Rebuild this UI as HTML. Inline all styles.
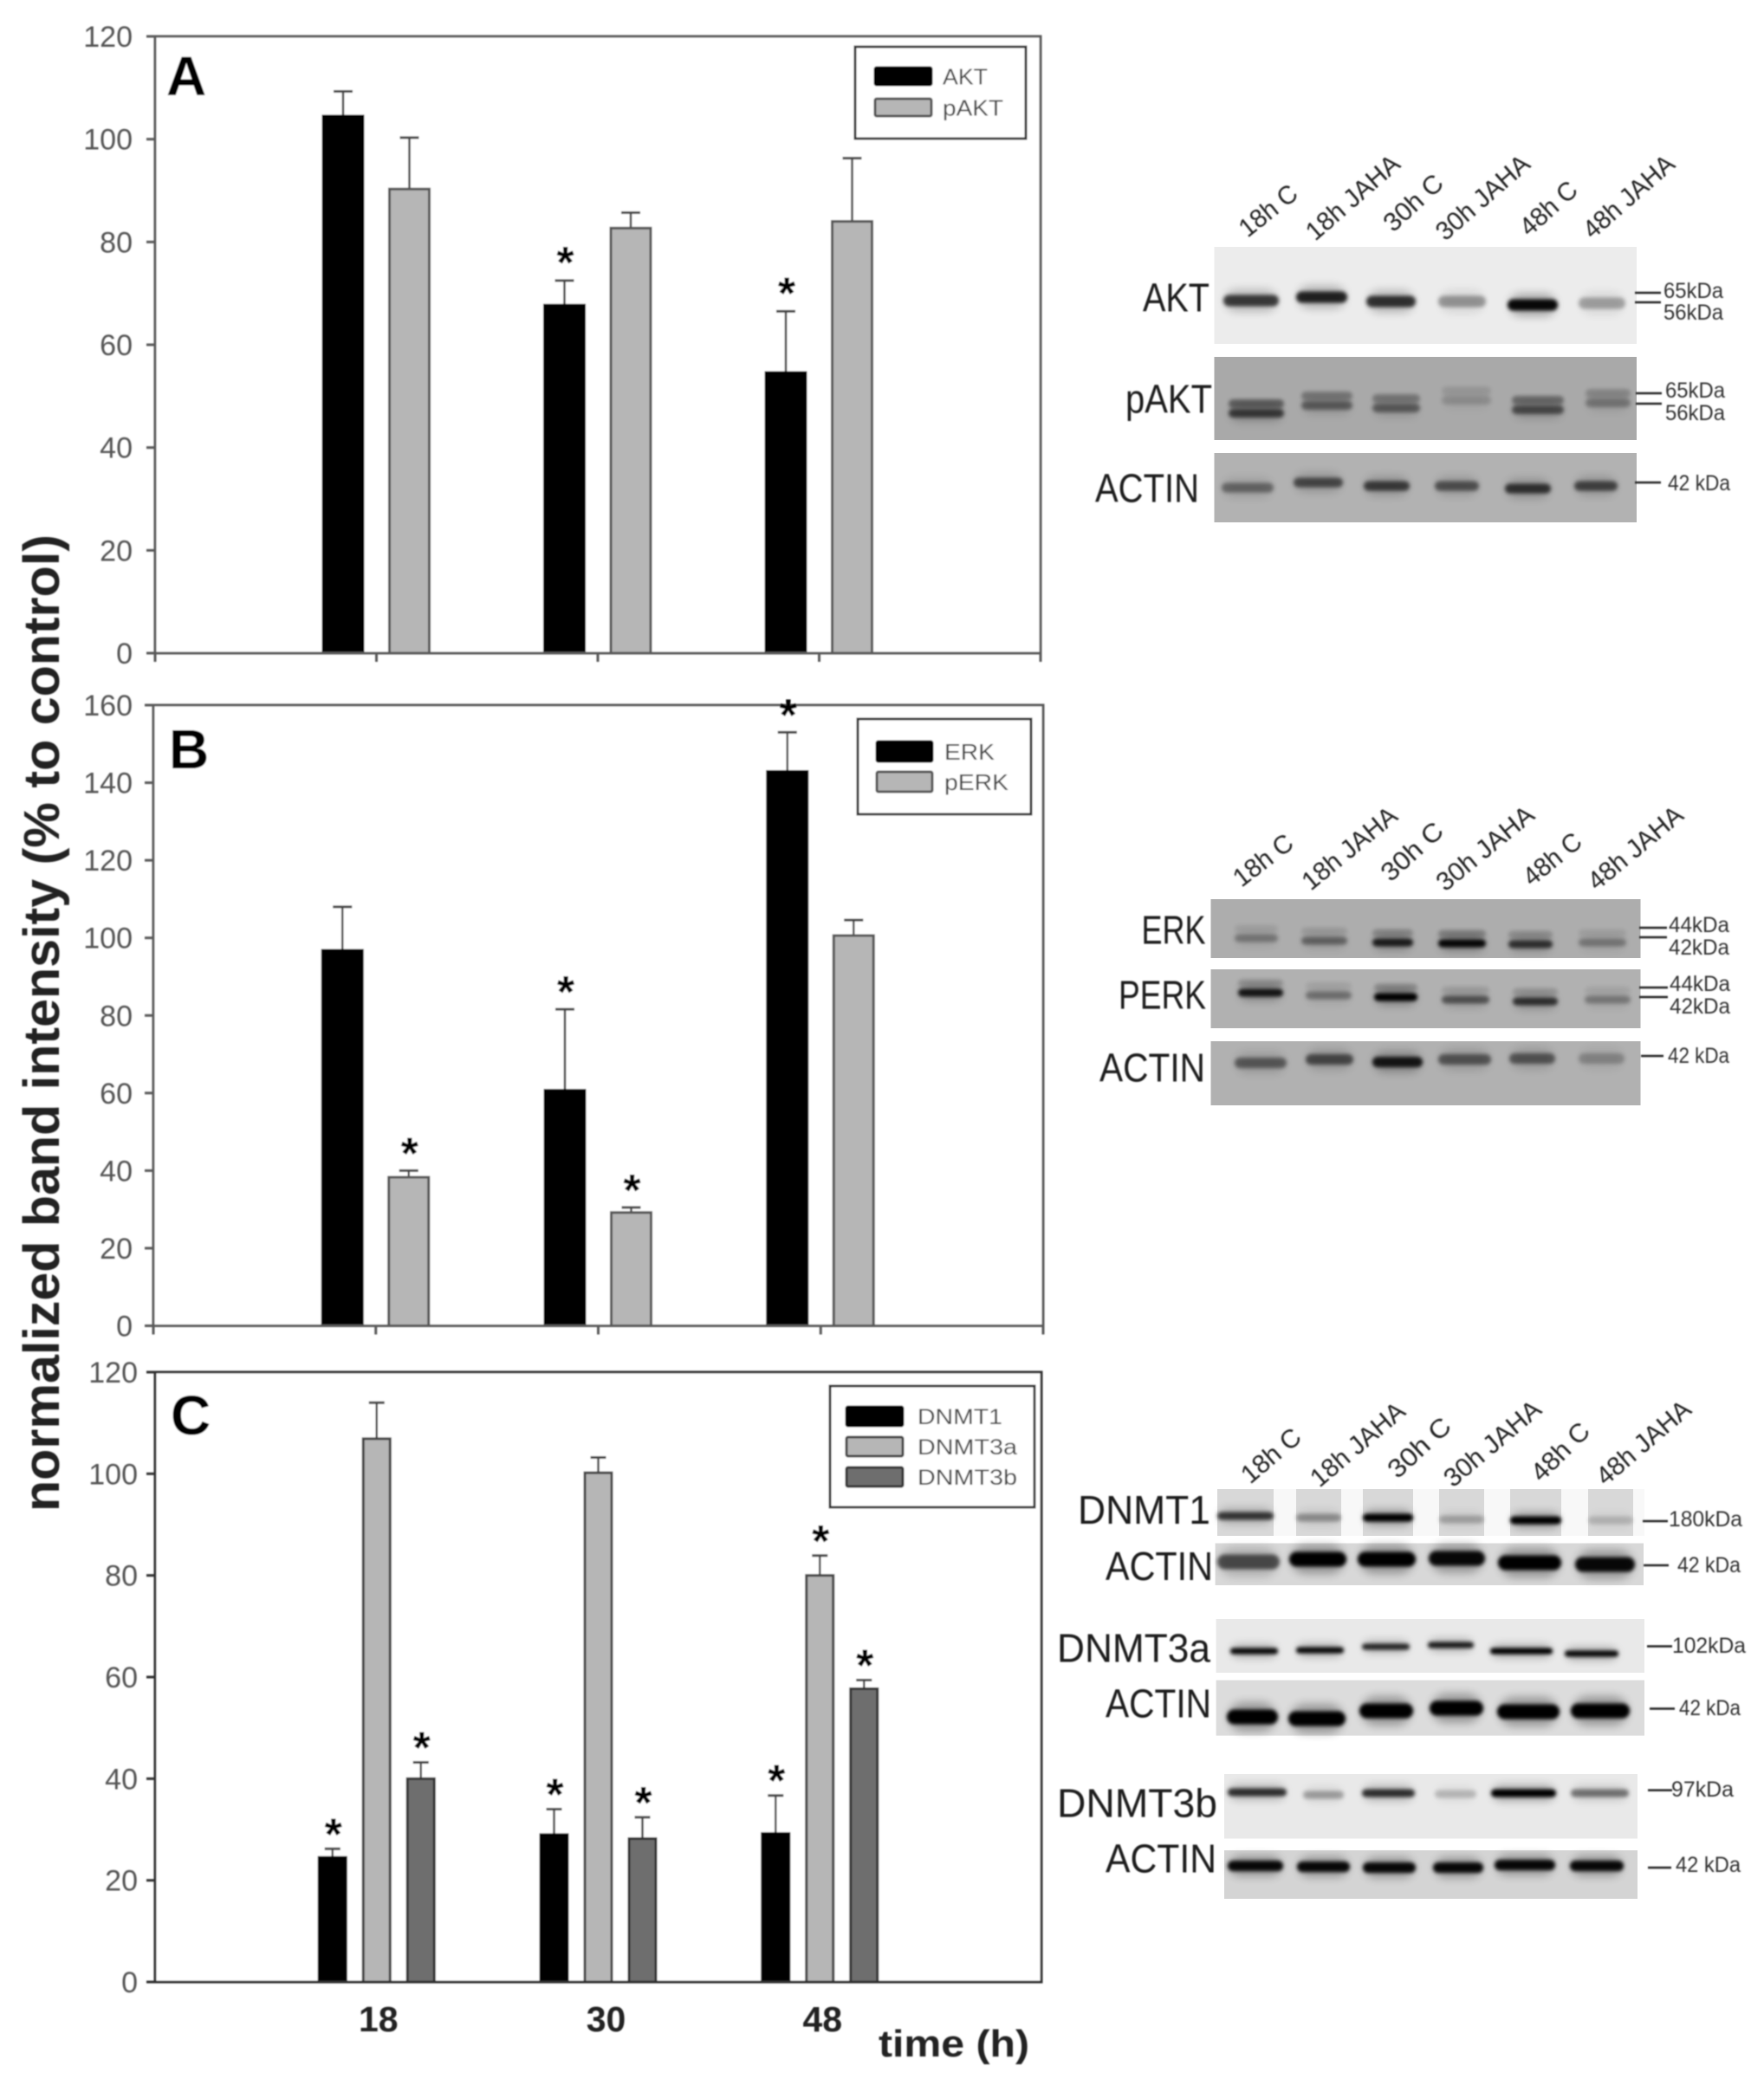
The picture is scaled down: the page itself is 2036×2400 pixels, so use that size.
<!DOCTYPE html>
<html lang="en">
<head>
<meta charset="utf-8">
<title>Normalized band intensity and western blots</title>
<style>
html,body{margin:0;padding:0;background:#fff;width:2036px;height:2400px;overflow:hidden}
svg{display:block;font-family:"Liberation Sans",Arial,sans-serif}
</style>
</head>
<body>
<svg id="figure" width="2036" height="2400" viewBox="0 0 2036 2400" xmlns="http://www.w3.org/2000/svg">
  <defs>
    <filter id="soft" x="-5%" y="-5%" width="110%" height="110%"><feGaussianBlur stdDeviation="0.9"/></filter>
    <filter id="band" x="-20%" y="-100%" width="140%" height="300%"><feGaussianBlur stdDeviation="2.2"/></filter>
    <filter id="halo" x="-20%" y="-100%" width="140%" height="300%"><feGaussianBlur stdDeviation="5"/></filter>
  </defs>
  <g id="charts" filter="url(#soft)"></g>
  <g id="blots"></g>
  <g id="blot-text" filter="url(#soft)"></g>
  <text transform="translate(68,1181) rotate(-90)" text-anchor="middle" font-size="58" font-weight="700" fill="#222" textLength="1128" lengthAdjust="spacingAndGlyphs" filter="url(#soft)">normalized band intensity (% to control)</text>
</svg>
<script>
// ---- chart data ----
const categories = ['18', '30', '48'];

const panelATicks = [0, 20, 40, 60, 80, 100, 120];
const aktValues = [104.5, 67.7, 54.6];
const aktErrors = [4.8, 4.8, 11.9];
const aktStars = [0, 1, 1];
const pAktValues = [90.3, 82.7, 84];
const pAktErrors = [10, 3, 12.3];
const pAktStars = [0, 0, 0];

const panelBTicks = [0, 20, 40, 60, 80, 100, 120, 140, 160];
const erkValues = [96.8, 60.7, 142.9];
const erkErrors = [11.2, 20.9, 10.1];
const erkStars = [0, 1, 1];
const pErkValues = [38.3, 29.2, 100.6];
const pErkErrors = [1.7, 1.3, 4];
const pErkStars = [1, 1, 0];

const panelCTicks = [0, 20, 40, 60, 80, 100, 120];
const dnmt1Values = [24.5, 29, 29.2];
const dnmt1Errors = [1.7, 5, 7.5];
const dnmt1Stars = [1, 1, 1];
const dnmt3aValues = [106.9, 100.2, 80];
const dnmt3aErrors = [7.1, 3, 3.9];
const dnmt3aStars = [0, 0, 1];
const dnmt3bValues = [40, 28.2, 57.7];
const dnmt3bErrors = [3.2, 4.2, 1.7];
const dnmt3bStars = [1, 1, 1];

const laneLabels = ['18h C', '18h JAHA', '30h C', '30h JAHA', '48h C', '48h JAHA'];

// ---- rendering ----
const NS = 'http://www.w3.org/2000/svg';
const chartsLayer = document.getElementById('charts');
const blotLayer = document.getElementById('blots');
const blotTextLayer = document.getElementById('blot-text');

function make(tag, attrs, parent, text) {
  const el = document.createElementNS(NS, tag);
  for (const k in attrs) el.setAttribute(k, attrs[k]);
  if (text !== undefined) el.textContent = text;
  parent.appendChild(el);
  return el;
}

const panels = [
  { id: 'a', letter: 'A', left: 179, right: 1201, top: 42, bottom: 754, max: 120, ticks: panelATicks, xTicks: true,
    labelRight: 153, axis: '#5a5a5a', barW: 48, offsets: [-38.5, 38], starShift: -3,
    letterX: 192, letterY: 110, letterFont: 64,
    series: [
      { name: 'AKT', values: aktValues, errors: aktErrors, stars: aktStars, fill: '#000', stroke: '#000' },
      { name: 'pAKT', values: pAktValues, errors: pAktErrors, stars: pAktStars, fill: '#b6b6b6', stroke: '#555' }
    ],
    legend: { x: 987, y: 54, w: 197, h: 106, swX: 1010, swW: 65, swH: 20, textX: 1088, font: 26, rows: [78, 114], widths: [52, 70] } },
  { id: 'b', letter: 'B', left: 177, right: 1204, top: 814, bottom: 1530.5, max: 160, ticks: panelBTicks, xTicks: true,
    labelRight: 153, axis: '#5a5a5a', barW: 48, offsets: [-38.5, 38], starShift: -2,
    letterX: 195, letterY: 887, letterFont: 64,
    series: [
      { name: 'ERK', values: erkValues, errors: erkErrors, stars: erkStars, fill: '#000', stroke: '#000' },
      { name: 'pERK', values: pErkValues, errors: pErkErrors, stars: pErkStars, fill: '#b6b6b6', stroke: '#555' }
    ],
    legend: { x: 990, y: 830, w: 200, h: 110, swX: 1012, swW: 64, swH: 23, textX: 1090, font: 26, rows: [856, 891], widths: [58, 74] } },
  { id: 'c', letter: 'C', left: 179, right: 1202, top: 1584, bottom: 2288, max: 120, ticks: panelCTicks, xTicks: false,
    labelRight: 159, axis: '#333', barW: 33, offsets: [-51, 0, 51], starShift: 1,
    letterX: 197, letterY: 1656, letterFont: 64,
    series: [
      { name: 'DNMT1', values: dnmt1Values, errors: dnmt1Errors, stars: dnmt1Stars, fill: '#000', stroke: '#000' },
      { name: 'DNMT3a', values: dnmt3aValues, errors: dnmt3aErrors, stars: dnmt3aStars, fill: '#b6b6b6', stroke: '#444' },
      { name: 'DNMT3b', values: dnmt3bValues, errors: dnmt3bErrors, stars: dnmt3bStars, fill: '#6e6e6e', stroke: '#333' }
    ],
    legend: { x: 958, y: 1600, w: 236, h: 140, swX: 977, swW: 65, swH: 22, textX: 1059, font: 25, rows: [1624, 1659, 1694], widths: [98, 115, 115] } }
];

// horizontal nudge of the printed category labels relative to the group centres
const categoryLabelNudge = [2, 9, 3];

panels.forEach(function (p) {
  const yScale = function (v) { return p.bottom - (v / p.max) * (p.bottom - p.top); };
  const xScale = function (i) { return p.left + (i + 1) * (p.right - p.left) / 4; };

  const g = make('g', {}, chartsLayer);
  
  

  // plot frame
  const frame = make('rect', { x: p.left, y: p.top, width: p.right - p.left, height: p.bottom - p.top, fill: '#fff', stroke: p.axis, 'stroke-width': 3 }, g);
  
  

  // y ticks + labels
  p.ticks.forEach(function (t) {
    const y = yScale(t);
    const tick = make('line', { x1: p.left - 10, x2: p.left, y1: y, y2: y, stroke: p.axis, 'stroke-width': 3 }, g);
    
    
    const lab = make('text', { x: p.labelRight, y: y + 12, 'text-anchor': 'end', 'font-size': 34, fill: '#555' }, g, String(t));
    
    
  });

  // x ticks
  if (p.xTicks) {
    for (let i = -1; i <= 3; i++) {
      const xt = make('line', { x1: xScale(i), x2: xScale(i), y1: p.bottom, y2: p.bottom + 10, stroke: p.axis, 'stroke-width': 3 }, g);
      
      
    }
  }

  // bars, error bars, significance stars
  p.series.forEach(function (s, si) {
    s.values.forEach(function (v, i) {
      const cx = xScale(i) + p.offsets[si];
      const yTop = yScale(v);
      const yErr = yScale(v + s.errors[i]);
      const capW = p.barW > 40 ? 22 : 18;

      const stem = make('line', { x1: cx, x2: cx, y1: yTop, y2: yErr, stroke: '#444', 'stroke-width': 2.5 }, g);
      
      
      const cap = make('line', { x1: cx - capW / 2, x2: cx + capW / 2, y1: yErr, y2: yErr, stroke: '#444', 'stroke-width': 3 }, g);
      
      

      const bar = make('rect', { x: cx - p.barW / 2 + 1, y: yTop, width: p.barW - 2, height: yScale(0) - yTop, fill: s.fill, stroke: s.stroke, 'stroke-width': 3 }, g);
      
      

      if (s.stars[i]) {
        const star = make('text', { x: cx + 1, y: yErr + p.starShift, 'text-anchor': 'middle', 'font-size': 52, 'font-weight': 700, fill: '#000' }, g, '*');
        
        
      }
    });
  });

  // x-axis baseline on top of bars
  const base = make('line', { x1: p.left, x2: p.right, y1: p.bottom, y2: p.bottom, stroke: p.axis, 'stroke-width': 3 }, g);
  
  

  // panel letter
  const letter = make('text', { x: p.letterX, y: p.letterY, 'font-size': p.letterFont, 'font-weight': 700, fill: '#000' }, g, p.letter);
  
  

  // legend
  const L = p.legend;
  const legendBox = make('rect', { x: L.x, y: L.y, width: L.w, height: L.h, fill: '#fff', stroke: '#333', 'stroke-width': 3 }, g);
  
  
  p.series.forEach(function (s, si) {
    const sw = make('rect', { x: L.swX, y: L.rows[si], width: L.swW, height: L.swH, rx: 2, fill: s.fill, stroke: s.stroke, 'stroke-width': 3 }, g);
    
    
    const lt = make('text', { x: L.textX, y: L.rows[si] + L.swH / 2 + L.font * 0.36, 'font-size': L.font, fill: '#444', textLength: L.widths[si], lengthAdjust: 'spacingAndGlyphs' }, g, s.name);
    
    
  });

  // category labels under the last panel
  if (p.id === 'c') {
    categories.forEach(function (c, i) {
      const cl = make('text', { x: xScale(i) + categoryLabelNudge[i], y: 2345, 'text-anchor': 'middle', 'font-size': 41, 'font-weight': 700, fill: '#222' }, g, c);
      
      
    });
    const xt = make('text', { x: 1014, y: 2374, 'font-size': 44, 'font-weight': 700, fill: '#222', textLength: 174, lengthAdjust: 'spacingAndGlyphs' }, g, 'time (h)');
    
    
  }
});

// ---- western blot panels (image-like decoration, page pixel layout) ----
const blotPanels = [
  { name: 'AKT', x: 1401.5, w: 487.5, y: 285, h: 112, fill: '#ececec', bandH: 13, lanes: [[1412,1476,347,.7],[1496,1555,343,.82],[1577,1634,348,.75],[1660,1715,348,.32],[1740,1798,352,.95],[1822,1876,350,.28]] },
  { name: 'pAKT', x: 1401.5, w: 487.5, y: 412, h: 96, fill: '#a9a9a9', bandH: 10, second: -11, secondK: .7, lanes: [[1418,1482,477,.62],[1502,1561,468,.42],[1584,1639,471,.42],[1664,1721,462,.14],[1745,1805,473,.52],[1830,1882,465,.28]] },
  { name: 'ACTIN', x: 1401.5, w: 487.5, y: 523, h: 80, fill: '#b2b2b2', bandH: 11, lanes: [[1410,1470,563,.38],[1493,1550,557,.55],[1574,1627,561,.62],[1656,1707,561,.5],[1737,1790,564,.68],[1817,1867,561,.58]] },
  { name: 'ERK', x: 1397.5, w: 496, y: 1038, h: 68, fill: '#adadad', bandH: 9, second: -11, secondK: .25, lanes: [[1425,1475,1083,.28],[1502,1555,1086,.38],[1584,1631,1088,.8],[1660,1715,1089,.95],[1741,1792,1090,.68],[1822,1877,1088,.28]] },
  { name: 'PERK', x: 1397.5, w: 496, y: 1119, h: 68, fill: '#b1b1b1', bandH: 9, second: -11, secondK: .2, lanes: [[1429,1481,1146,.85],[1507,1560,1149,.32],[1586,1636,1151,1],[1664,1719,1154,.48],[1746,1798,1156,.68],[1829,1882,1154,.28]] },
  { name: 'ACTIN', x: 1397.5, w: 496, y: 1202, h: 74, fill: '#b1b1b1', bandH: 12, lanes: [[1425,1485,1227,.45],[1507,1562,1223,.55],[1584,1642,1226,.85],[1660,1721,1223,.48],[1742,1795,1222,.48],[1822,1875,1222,.22]] },
  { name: 'DNMT1', x: 1405, w: 493, y: 1719, h: 54, fill: '#f8f8f8', bandH: 9, laneShade: '#d8d8d8', lanes: [[1405,1470,1750,.7],[1496,1548,1752,.3],[1573,1631,1752,1],[1661,1713,1754,.22],[1743,1802,1755,1],[1833,1885,1755,.15]] },
  { name: 'ACTIN', x: 1402.6, w: 494.4, y: 1781.5, h: 48.5, fill: '#d8d8d8', bandH: 17, lanes: [[1405,1477,1803,.6],[1488,1554,1800,1],[1567,1634,1800,1],[1649,1714,1799,.95],[1729,1802,1804,1],[1818,1887,1806,.95]] },
  { name: 'DNMT3a', x: 1403.6, w: 494.4, y: 1869, h: 62, fill: '#e9e9e9', bandH: 7, lanes: [[1420,1475,1906,.95],[1496,1551,1905,.95],[1572,1627,1901,.8],[1648,1701,1899,.85],[1720,1792,1906,1],[1806,1868,1909,.95]] },
  { name: 'ACTIN', x: 1403.6, w: 494.4, y: 1939.6, h: 64, fill: '#dcdcdc', bandH: 17, lanes: [[1416,1475,1982,1],[1487,1553,1984,1],[1569,1631,1975,1],[1650,1712,1972,1],[1728,1800,1976,1],[1813,1881,1975,1]] },
  { name: 'DNMT3b', x: 1413, w: 477, y: 2048, h: 74.5, fill: '#e9e9e9', bandH: 9, lanes: [[1417,1485,2069,.75],[1504,1551,2072,.28],[1572,1633,2070,.75],[1656,1704,2071,.18],[1721,1796,2070,1],[1813,1880,2070,.45]] },
  { name: 'ACTIN', x: 1413, w: 477, y: 2136, h: 56, fill: '#d4d4d4', bandH: 12, lanes: [[1417,1481,2154,.95],[1497,1558,2155,.95],[1573,1634,2156,.95],[1654,1712,2156,.95],[1725,1795,2153,.95],[1812,1874,2154,.95]] }
];

blotPanels.forEach(function (b) {
  const r = make('rect', { x: b.x, y: b.y, width: b.w, height: b.h, fill: b.fill }, blotLayer);
  
  
  b.lanes.forEach(function (l) {
    if (b.laneShade) {
      const shade = make('rect', { x: l[0], y: b.y, width: l[1] - l[0], height: b.h, fill: b.laneShade }, blotLayer);
      
      
    }
    const halo = make('rect', { x: l[0] + 2, y: l[2] - b.bandH, width: l[1] - l[0] - 4, height: b.bandH * 2, rx: b.bandH, fill: '#000', opacity: l[3] * 0.3, filter: 'url(#halo)' }, blotLayer);
    
    
    const bandEl = make('rect', { x: l[0], y: l[2] - b.bandH / 2, width: l[1] - l[0], height: b.bandH, rx: b.bandH / 2, fill: '#000', opacity: l[3], filter: 'url(#band)' }, blotLayer);
    
    
    if (b.second) {
      const upper = make('rect', { x: l[0], y: l[2] + b.second - b.bandH / 2, width: l[1] - l[0], height: b.bandH, rx: b.bandH / 2, fill: '#000', opacity: l[3] * b.secondK, filter: 'url(#band)' }, blotLayer);
      
      
    }
  });
});

const blotLabels = [
  ['AKT', 1319, 1396, 343, 46], ['pAKT', 1299, 1399, 460, 46], ['ACTIN', 1264, 1384, 563, 46],
  ['ERK', 1317.5, 1391.5, 1073, 46], ['PERK', 1291, 1392, 1148, 46], ['ACTIN', 1269, 1391, 1232, 46],
  ['DNMT1', 1244, 1397, 1742.5, 46], ['ACTIN', 1276, 1400, 1807.5, 46], ['DNMT3a', 1220, 1397, 1902, 46],
  ['ACTIN', 1276, 1398, 1966, 46], ['DNMT3b', 1220, 1405, 2081, 46], ['ACTIN', 1276, 1404, 2145, 46]
];
blotLabels.forEach(function (t) {
  const el = make('text', { x: t[1], y: t[3] + t[4] * 0.36, 'font-size': t[4], fill: '#1c1c1c', textLength: t[2] - t[1], lengthAdjust: 'spacingAndGlyphs' }, blotTextLayer, t[0]);
  
  
});

const kdaLabels = [
  ['65kDa', 1920, 1989, 335], ['56kDa', 1920, 1989, 360], ['65kDa', 1922, 1991, 450], ['56kDa', 1922, 1991, 476], ['42 kDa', 1925, 1997, 557],
  ['44kDa', 1926, 1996, 1067], ['42kDa', 1926, 1996, 1093], ['44kDa', 1927, 1997, 1135], ['42kDa', 1927, 1997, 1161], ['42 kDa', 1925, 1996, 1218],
  ['180kDa', 1926, 2011, 1753], ['42 kDa', 1936, 2009, 1806], ['102kDa', 1930, 2015, 1899], ['42 kDa', 1938, 2009, 1971], ['97kDa', 1929, 2001, 2065], ['42 kDa', 1934, 2009, 2152]
];
kdaLabels.forEach(function (t) {
  const el = make('text', { x: t[1], y: t[3] + 9, 'font-size': 25, fill: '#333', textLength: t[2] - t[1], lengthAdjust: 'spacingAndGlyphs' }, blotTextLayer, t[0]);
  
  
});

const kdaLines = [
  [1887, 1917, 338], [1887, 1917, 349], [1888, 1918, 454], [1888, 1918, 466], [1887, 1917, 557],
  [1892, 1924, 1071], [1892, 1924, 1082], [1892, 1925, 1140], [1892, 1925, 1151], [1894, 1920, 1219],
  [1896, 1925, 1756], [1897, 1926, 1807], [1901, 1930, 1900.5], [1904, 1933, 1972.5], [1902, 1930, 2066.6], [1902, 1929, 2156]
];
kdaLines.forEach(function (t) {
  const el = make('line', { x1: t[0], x2: t[1], y1: t[2], y2: t[2], stroke: '#222', 'stroke-width': 2.5 }, blotTextLayer);
  
  
});

// rotated lane headings: start point and end point of each label
const laneHeadingGroups = [
  [[1437,273,1497,225],[1515,277,1615,190],[1605,267,1665,212],[1665,277,1765,190],[1762,272,1820,220],[1835,275,1932,190]],
  [[1430,1023,1492,975],[1510,1027,1612,943],[1602,1017,1665,960],[1665,1028,1770,942],[1765,1022,1825,973],[1840,1027,1942,942]],
  [[1440,1712,1501,1660],[1520,1716,1621,1630],[1610,1706,1674,1647],[1674,1716,1778,1628],[1776,1710,1834,1652],[1850,1714,1951,1628]]
];
laneHeadingGroups.forEach(function (group) {
  group.forEach(function (h, i) {
    const len = Math.hypot(h[2] - h[0], h[3] - h[1]);
    const ang = Math.atan2(h[3] - h[1], h[2] - h[0]) * 180 / Math.PI;
    const el = make('text', { transform: 'translate(' + (h[0] + 3) + ',' + (h[1] + 2) + ') rotate(' + ang + ')', 'font-size': 30, fill: '#222', textLength: len, lengthAdjust: 'spacingAndGlyphs' }, blotTextLayer, laneLabels[i]);
    
    
  });
});
</script>
</body>
</html>
